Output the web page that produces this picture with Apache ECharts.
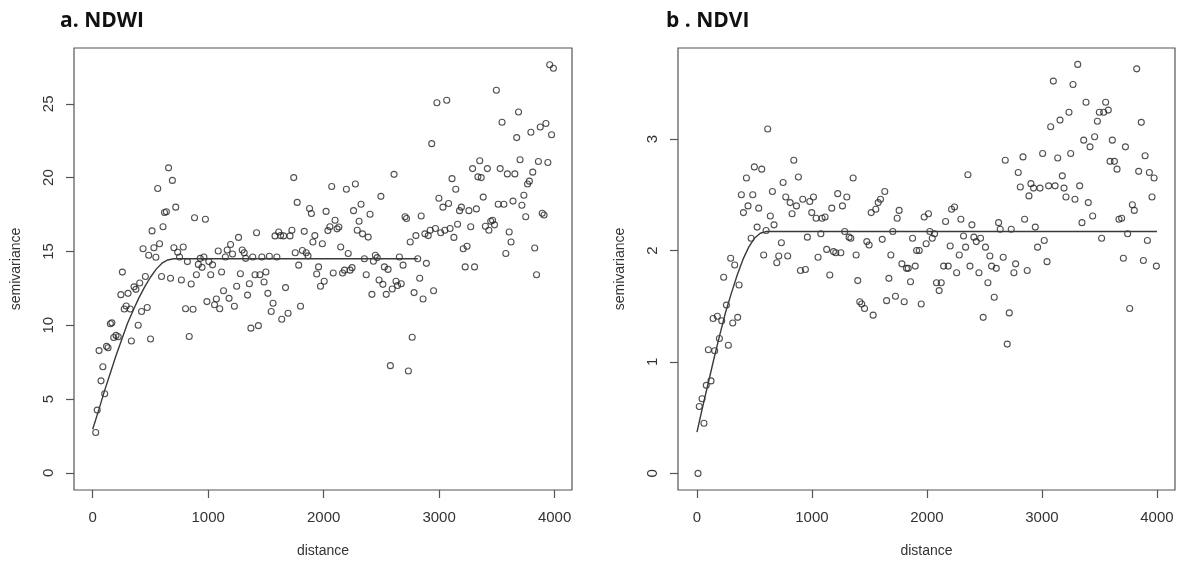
<!DOCTYPE html>
<html>
<head>
<meta charset="utf-8">
<script src="https://cdn.jsdelivr.net/npm/echarts@6/dist/echarts.min.js"></script>
<style>
html,body{margin:0;padding:0;background:#fff;}
#chart{width:1179px;height:563px;}
</style>
</head>
<body>
<div id="chart"></div>
<script>
// ---- data ----
const panelTitles = ['a. NDWI', 'b . NDVI'];
const distanceTicks = [0, 1000, 2000, 3000, 4000];
const ndwiTicks = [0, 5, 10, 15, 20, 25];
const ndviTicks = [0, 1, 2, 3];

// [distance, semivariance]
const ndwiPoints = [
[26,2.73],[39,4.25],[55,8.28],[72,6.23],[88,7.19],[104,5.36],[120,8.57],[133,8.47],[153,10.1],[166,10.16],
[182,9.17],[202,9.31],[221,9.22],[244,12.07],[257,13.6],[273,11.1],[290,11.3],[306,12.16],[325,11.1],[335,8.93],
[358,12.6],[374,12.43],[394,10.0],[407,12.86],[423,10.93],[436,15.18],[456,13.3],[472,11.2],[485,14.74],[501,9.07],
[514,16.39],[530,15.25],[547,14.6],[563,19.26],[579,15.52],[596,13.3],[609,16.67],[622,17.64],[638,17.69],[657,20.66],
[674,13.18],[690,19.81],[703,15.25],[719,18.0],[736,14.94],[752,14.62],[768,13.06],[784,15.3],[804,11.12],[820,14.31],
[836,9.24],[853,12.79],[869,11.08],[882,17.28],[898,13.42],[915,14.12],[931,14.53],[947,13.92],[963,14.62],[976,17.18],
[989,11.6],[1006,14.31],[1022,13.42],[1038,14.09],[1055,11.39],[1071,11.78],[1087,15.03],[1100,11.12],[1116,13.61],[1133,12.33],
[1149,14.62],[1165,15.1],[1181,11.82],[1194,15.47],[1211,14.82],[1227,11.29],[1247,12.64],[1263,15.95],[1279,13.49],[1295,15.1],
[1312,14.91],[1325,14.53],[1341,12.04],[1357,12.81],[1370,9.8],[1386,14.62],[1406,13.42],[1419,16.26],[1435,9.97],[1448,13.42],
[1465,14.62],[1484,12.93],[1500,13.61],[1517,12.16],[1530,14.67],[1546,10.93],[1562,11.49],[1579,16.05],[1595,14.62],[1611,16.31],
[1627,16.07],[1637,10.4],[1653,16.05],[1670,12.55],[1692,10.81],[1709,16.05],[1725,16.43],[1741,20.0],[1754,14.91],[1771,18.32],
[1784,14.07],[1800,11.29],[1816,15.06],[1832,16.36],[1849,14.91],[1865,14.7],[1878,17.91],[1894,17.57],[1907,15.64],[1924,16.07],
[1940,13.47],[1956,13.95],[1973,12.64],[1989,15.52],[2005,12.98],[2021,17.71],[2037,16.41],[2054,16.67],[2070,19.4],[2083,13.54],
[2099,17.11],[2116,16.53],[2132,16.65],[2148,15.3],[2164,13.54],[2181,13.73],[2197,19.21],[2213,14.86],[2229,13.73],[2246,13.9],
[2259,17.76],[2275,19.57],[2291,16.43],[2307,17.04],[2324,18.2],[2337,16.19],[2353,14.5],[2369,13.42],[2386,15.97],[2402,17.52],
[2418,12.09],[2431,14.33],[2448,14.74],[2464,14.58],[2480,13.06],[2496,18.73],[2513,12.77],[2526,13.95],[2542,12.09],[2558,13.78],
[2578,7.26],[2594,12.45],[2610,20.22],[2627,12.98],[2640,12.69],[2656,14.62],[2672,12.81],[2688,14.07],[2705,17.35],[2718,17.23],
[2734,6.9],[2750,15.64],[2767,9.19],[2783,12.21],[2799,16.07],[2815,14.5],[2832,13.18],[2845,17.4],[2861,11.78],[2877,16.19],
[2890,14.19],[2906,16.07],[2923,16.43],[2936,22.3],[2952,12.33],[2968,16.55],[2981,25.07],[2998,18.6],[3014,16.26],[3033,18.0],
[3050,16.43],[3066,25.24],[3082,18.25],[3095,16.55],[3112,19.93],[3128,15.95],[3144,19.21],[3160,16.84],[3177,17.76],[3193,18.0],
[3209,15.18],[3226,13.95],[3242,15.35],[3258,17.76],[3274,16.67],[3290,20.61],[3307,13.95],[3323,17.88],[3336,20.05],[3352,21.14],
[3365,20.0],[3382,18.68],[3401,16.7],[3418,20.61],[3431,16.43],[3447,17.04],[3463,17.11],[3480,16.8],[3496,25.92],[3512,18.2],
[3529,20.61],[3545,23.75],[3561,18.2],[3578,14.86],[3591,20.25],[3607,16.31],[3623,15.64],[3640,18.41],[3656,20.25],[3672,22.71],
[3688,24.44],[3701,21.21],[3717,18.13],[3734,18.8],[3750,17.35],[3766,19.57],[3782,19.76],[3795,23.07],[3811,20.37],[3828,15.23],
[3844,13.42],[3860,21.09],[3876,23.43],[3893,17.59],[3909,17.47],[3925,23.67],[3942,21.02],[3958,27.65],[3974,22.9],[3990,27.41]
];

// fitted model line
const ndwiModel = [
[0,2.95],[50,4.2],[100,5.5],[150,6.7],[200,7.9],[250,9.0],[300,10.1],[350,11.0],[400,11.85],[450,12.6],
[500,13.25],[550,13.8],[600,14.2],[650,14.42],[700,14.5],[2815,14.5]
];

const ndviPoints = [
[9,0.0],[20,0.60],[44,0.67],[61,0.45],[81,0.79],[99,1.11],[122,0.83],[140,1.39],[154,1.10],[177,1.41],
[195,1.21],[215,1.37],[232,1.76],[256,1.51],[273,1.15],[293,1.93],[311,1.35],[328,1.87],[354,1.40],[366,1.69],
[386,2.50],[404,2.34],[430,2.65],[444,2.40],[471,2.11],[485,2.50],[499,2.75],[523,2.21],[537,2.38],[563,2.73],
[580,1.96],[601,2.18],[615,3.09],[638,2.31],[656,2.53],[670,2.23],[694,1.89],[711,1.95],[734,2.07],[749,2.61],
[772,2.48],[789,1.95],[810,2.43],[827,2.33],[842,2.81],[865,2.40],[882,2.66],[900,1.82],[920,2.46],[943,1.83],
[960,2.12],[981,2.44],[998,2.34],[1013,2.48],[1036,2.29],[1053,1.94],[1077,2.15],[1088,2.29],[1114,2.30],[1128,2.01],
[1155,1.78],[1172,2.38],[1187,1.99],[1207,1.98],[1224,2.51],[1251,1.98],[1265,2.40],[1285,2.17],[1303,2.48],[1323,2.12],
[1338,2.11],[1358,2.65],[1384,1.96],[1398,1.73],[1416,1.54],[1433,1.52],[1457,1.48],[1477,2.08],[1497,2.05],[1515,2.34],
[1532,1.42],[1555,2.37],[1576,2.43],[1596,2.46],[1611,2.10],[1633,2.53],[1649,1.55],[1669,1.75],[1686,1.96],[1703,2.17],
[1726,1.59],[1741,2.29],[1758,2.36],[1782,1.88],[1802,1.54],[1822,1.84],[1837,1.84],[1857,1.72],[1875,2.11],[1898,1.86],
[1910,2.00],[1933,2.00],[1950,1.52],[1976,2.30],[1993,2.06],[2013,2.33],[2025,2.17],[2046,2.11],[2066,2.15],[2083,1.71],
[2106,1.64],[2124,1.71],[2145,1.86],[2162,2.26],[2185,1.86],[2202,2.04],[2214,2.37],[2240,2.39],[2258,1.80],[2281,1.96],
[2295,2.28],[2318,2.13],[2336,2.03],[2356,2.68],[2374,1.86],[2391,2.23],[2408,2.12],[2429,2.08],[2452,1.80],[2466,2.11],
[2489,1.40],[2509,2.03],[2530,1.71],[2547,1.95],[2562,1.86],[2585,1.58],[2603,1.84],[2623,2.25],[2637,2.19],[2663,1.94],
[2681,2.81],[2698,1.16],[2716,1.44],[2733,2.19],[2756,1.80],[2771,1.88],[2794,2.70],[2812,2.57],[2835,2.84],[2849,2.28],
[2872,1.82],[2887,2.49],[2904,2.60],[2927,2.56],[2942,2.21],[2962,2.03],[2983,2.56],[3006,2.87],[3020,2.09],[3044,1.90],
[3058,2.58],[3076,3.11],[3099,3.52],[3114,2.58],[3137,2.83],[3157,3.17],[3177,2.67],[3192,2.56],[3209,2.48],[3235,3.24],
[3250,2.87],[3270,3.49],[3287,2.46],[3311,3.67],[3328,2.58],[3348,2.25],[3363,2.99],[3383,3.33],[3403,2.43],[3418,2.93],
[3441,2.31],[3458,3.02],[3482,3.16],[3499,3.24],[3519,2.11],[3537,3.24],[3554,3.33],[3577,3.26],[3592,2.80],[3612,2.99],
[3630,2.80],[3653,2.73],[3670,2.28],[3693,2.29],[3708,1.93],[3726,2.93],[3745,2.15],[3763,1.48],[3786,2.41],[3803,2.36],
[3824,3.63],[3841,2.71],[3864,3.15],[3882,1.91],[3897,2.85],[3917,2.09],[3934,2.70],[3957,2.48],[3975,2.65],[3995,1.86]
];

const ndviModel = [
[0,0.37],[50,0.6],[100,0.82],[150,1.04],[200,1.25],[250,1.45],[300,1.62],[350,1.78],[400,1.92],[450,2.03],
[500,2.11],[550,2.155],[600,2.17],[4000,2.17]
];

// ---- chart ----
const tickFont = 'Liberation Sans, Arial, sans-serif';
const titleStyle = {fontFamily: 'Open Sans', fontWeight: 'bold', fontSize: 21, color: '#111'};

function xAxisFor(gi, min, max) {
  return {
    gridIndex: gi, type: 'value', min: min, max: max,
    axisLine: {show: false, onZero: false},
    axisTick: {show: true, inside: false, length: 8, customValues: distanceTicks,
               lineStyle: {color: '#555', width: 1.2}},
    axisLabel: {customValues: distanceTicks, margin: 20, fontSize: 15, fontFamily: tickFont,
                color: '#333', formatter: v => String(v)},
    splitLine: {show: false},
    name: 'distance', nameLocation: 'middle', nameGap: 54,
    nameTextStyle: {fontSize: 14, fontFamily: tickFont, color: '#333'}
  };
}
function yAxisFor(gi, min, max, ticks) {
  return {
    gridIndex: gi, type: 'value', min: min, max: max,
    axisLine: {show: false, onZero: false},
    axisTick: {show: true, inside: false, length: 8, customValues: ticks,
               lineStyle: {color: '#555', width: 1.2}},
    axisLabel: {customValues: ticks, rotate: 90, margin: 18, fontSize: 15, fontFamily: tickFont,
                color: '#333', formatter: v => String(v)},
    splitLine: {show: false},
    name: 'semivariance', nameLocation: 'middle', nameGap: 51,
    nameTextStyle: {fontSize: 14, fontFamily: tickFont, color: '#333'}
  };
}
const pointStyle = {color: 'rgba(0,0,0,0)', borderColor: '#262626', borderWidth: 1.1};
const lineStyle = {color: '#3a3a3a', width: 1.4};

const chart = echarts.init(document.getElementById('chart'), null, {renderer: 'canvas'});
chart.setOption({
  animation: false,
  backgroundColor: '#fff',
  title: [
    {text: panelTitles[0], left: 60, top: 11, padding: 0, textStyle: titleStyle},
    {text: panelTitles[1], left: 666, top: 11, padding: 0, textStyle: titleStyle}
  ],
  grid: [
    {left: 74, top: 48, width: 498, height: 445, show: true, borderColor: '#555', borderWidth: 1.2, backgroundColor: 'rgba(0,0,0,0)'},
    {left: 678, top: 48, width: 497, height: 444, show: true, borderColor: '#555', borderWidth: 1.2, backgroundColor: 'rgba(0,0,0,0)'}
  ],
  xAxis: [xAxisFor(0, -162, 4151), xAxisFor(1, -165, 4157)],
  yAxis: [yAxisFor(0, -1.163, 28.78, ndwiTicks), yAxisFor(1, -0.149, 3.817, ndviTicks)],
  series: [
    {type: 'scatter', xAxisIndex: 0, yAxisIndex: 0, data: ndwiPoints, symbol: 'circle', symbolSize: 6,
     itemStyle: pointStyle, silent: true},
    {type: 'line', xAxisIndex: 0, yAxisIndex: 0, data: ndwiModel, showSymbol: false, symbol: 'none',
     lineStyle: lineStyle, silent: true},
    {type: 'scatter', xAxisIndex: 1, yAxisIndex: 1, data: ndviPoints, symbol: 'circle', symbolSize: 6,
     itemStyle: pointStyle, silent: true},
    {type: 'line', xAxisIndex: 1, yAxisIndex: 1, data: ndviModel, showSymbol: false, symbol: 'none',
     lineStyle: lineStyle, silent: true}
  ]
});
</script>
</body>
</html>
